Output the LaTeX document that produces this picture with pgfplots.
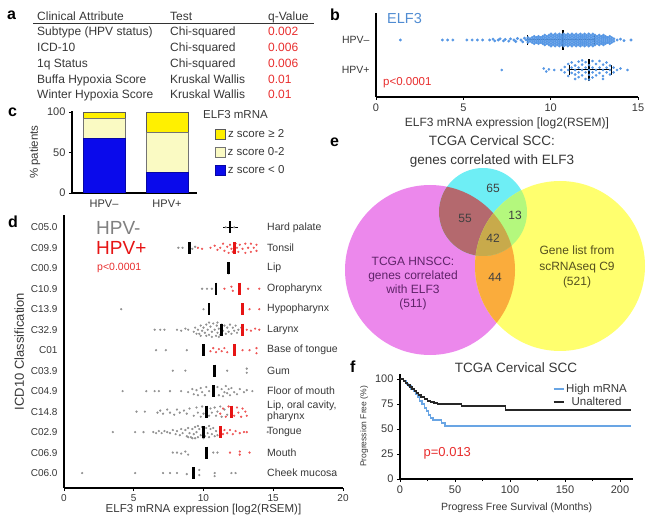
\documentclass[border=0pt]{standalone}
\usepackage{fontspec}
\setmainfont{Liberation Sans}
\usepackage{pgfplots}
\pgfplotsset{compat=1.18}

\definecolor{txt}{RGB}{55,55,55}
\definecolor{qred}{RGB}{232,45,45}
\definecolor{dotblue}{RGB}{85,150,228}
\definecolor{titleblue}{RGB}{80,140,210}
\definecolor{zyel}{RGB}{255,240,0}
\definecolor{zlight}{RGB}{250,250,195}
\definecolor{zblue}{RGB}{10,10,235}
\definecolor{dgray}{RGB}{145,145,145}
\definecolor{dred}{RGB}{238,85,85}
\definecolor{mred}{RGB}{230,20,20}
\definecolor{vmag}{RGB}{236,136,236}
\definecolor{vcyan}{RGB}{110,238,245}
\definecolor{vyel}{RGB}{255,255,110}
\definecolor{vmc}{RGB}{180,105,110}
\definecolor{vcy}{RGB}{180,248,125}
\definecolor{vmy}{RGB}{250,172,60}
\definecolor{vall}{RGB}{200,170,75}
\definecolor{kmblue}{RGB}{105,165,228}

\newcommand\fs[1]{\fontsize{#1}{#1}\selectfont}

\pgfplotsset{
  panel/.style={scale only axis, axis lines=left,
    axis line style={-, line width=1.1pt, black},
    tick align=outside, major tick length=3pt,
    tick style={line width=0.8pt, black},
    /pgf/number format/assume math mode=true,
    tick label style={font=\fs{11}, text=txt},
    label style={font=\fs{11.5}, text=txt}},
}

\begin{document}
\begin{tikzpicture}
\useasboundingbox (0pt,0pt) rectangle (650pt,-518pt);

% panel letters
\begin{scope}[every node/.style={anchor=base west, inner sep=0pt, font=\bfseries\fs{16}}]
\node at (7pt,-20pt) {a};
\node at (330pt,-21pt) {b};
\node at (8pt,-117pt) {c};
\node at (8pt,-228pt) {d};
\node at (330pt,-147pt) {e};
\node at (350pt,-372pt) {f};
\end{scope}

% ---------- a: table
\begin{scope}[every node/.style={anchor=base west, inner sep=0pt, font=\fs{12}, text=txt}]
\node at (37pt,-20.5pt) {Clinical Attribute};
\node at (170pt,-20.5pt) {Test};
\node at (268pt,-20.5pt) {q-Value};
\node at (37pt,-36pt) {Subtype (HPV status)};
\node at (170pt,-36pt) {Chi-squared};
\node[text=qred] at (268pt,-36pt) {0.002};
\node at (37pt,-51.5pt) {ICD-10};
\node at (170pt,-51.5pt) {Chi-squared};
\node[text=qred] at (268pt,-51.5pt) {0.006};
\node at (37pt,-67.5pt) {1q Status};
\node at (170pt,-67.5pt) {Chi-squared};
\node[text=qred] at (268pt,-67.5pt) {0.006};
\node at (37pt,-83.5pt) {Buffa Hypoxia Score};
\node at (170pt,-83.5pt) {Kruskal Wallis};
\node[text=qred] at (268pt,-83.5pt) {0.01};
\node at (37pt,-99pt) {Winter Hypoxia Score};
\node at (170pt,-99pt) {Kruskal Wallis};
\node[text=qred] at (268pt,-99pt) {0.01};
\end{scope}
\draw[line width=0.8pt, black!80] (33pt,-23.5pt) -- (314pt,-23.5pt);

% ---------- b: ELF3 by HPV status
\begin{axis}[panel, at={(376pt,-97pt)}, anchor=south west,
  width=262pt, height=84pt, xmin=0, xmax=15, ymin=0.1, ymax=2.9,
  xtick={0,5,10,15}, ytick={1,2}, yticklabels={HPV+,HPV–},
  y tick style={draw=none}, yticklabel style={font=\fs{10.5}},
  xlabel={ELF3 mRNA expression [log2(RSEM)]}, xlabel style={font=\fs{12}},
  clip=false]
\addplot[only marks, mark=*, mark size=1.25pt, dotblue, mark options={draw=none}] coordinates {
(1.4,2) (3.8,2) (4.1,2) (4.4,2) (5.2,2) (5.5,2) (5.8,2) (6.1,2) (6.5,2)
(6.7,2.03) (6.8,1.97) (7.0,2) (7.1,2.04) (7.3,1.97) (7.4,2.02) (7.6,1.96)
(7.7,2.04) (7.9,2) (8.0,1.95) (8.1,2.05) (8.3,2) (8.4,1.94) (8.5,2.06) (8.6,2)
(8.70,2) (8.70,2.08) (8.70,1.92)
(8.82,2.04) (8.82,1.96)
(8.94,2) (8.94,2.08) (8.94,1.92)
(9.06,2.04) (9.06,1.96) (9.06,2.12) (9.06,1.88)
(9.18,2) (9.18,2.08) (9.18,1.92)
(9.30,2.04) (9.30,1.96) (9.30,2.12) (9.30,1.88)
(9.42,2) (9.42,2.08) (9.42,1.92)
(9.54,2.04) (9.54,1.96) (9.54,2.12) (9.54,1.88)
(9.66,2) (9.66,2.08) (9.66,1.92) (9.66,2.16) (9.66,1.84)
(9.78,2.04) (9.78,1.96) (9.78,2.12) (9.78,1.88)
(9.90,2) (9.90,2.08) (9.90,1.92) (9.90,2.16) (9.90,1.84)
(10.02,2.04) (10.02,1.96) (10.02,2.12) (10.02,1.88) (10.02,2.2) (10.02,1.8)
(10.14,2) (10.14,2.08) (10.14,1.92) (10.14,2.16) (10.14,1.84)
(10.26,2.04) (10.26,1.96) (10.26,2.12) (10.26,1.88) (10.26,2.2) (10.26,1.8)
(10.38,2) (10.38,2.08) (10.38,1.92) (10.38,2.16) (10.38,1.84)
(10.50,2.04) (10.50,1.96) (10.50,2.12) (10.50,1.88) (10.50,2.2) (10.50,1.8)
(10.62,2) (10.62,2.08) (10.62,1.92) (10.62,2.16) (10.62,1.84)
(10.74,2.04) (10.74,1.96) (10.74,2.12) (10.74,1.88) (10.74,2.2) (10.74,1.8)
(10.86,2) (10.86,2.08) (10.86,1.92) (10.86,2.16) (10.86,1.84)
(10.98,2.04) (10.98,1.96) (10.98,2.12) (10.98,1.88) (10.98,2.2) (10.98,1.8)
(11.10,2) (11.10,2.08) (11.10,1.92) (11.10,2.16) (11.10,1.84)
(11.22,2.04) (11.22,1.96) (11.22,2.12) (11.22,1.88) (11.22,2.2) (11.22,1.8)
(11.34,2) (11.34,2.08) (11.34,1.92) (11.34,2.16) (11.34,1.84)
(11.46,2.04) (11.46,1.96) (11.46,2.12) (11.46,1.88) (11.46,2.2) (11.46,1.8)
(11.58,2) (11.58,2.08) (11.58,1.92) (11.58,2.16) (11.58,1.84)
(11.70,2.04) (11.70,1.96) (11.70,2.12) (11.70,1.88) (11.70,2.2) (11.70,1.8)
(11.82,2) (11.82,2.08) (11.82,1.92) (11.82,2.16) (11.82,1.84)
(11.94,2.04) (11.94,1.96) (11.94,2.12) (11.94,1.88) (11.94,2.2) (11.94,1.8)
(12.06,2) (12.06,2.08) (12.06,1.92) (12.06,2.16) (12.06,1.84)
(12.18,2.04) (12.18,1.96) (12.18,2.12) (12.18,1.88) (12.18,2.2) (12.18,1.8)
(12.30,2) (12.30,2.08) (12.30,1.92) (12.30,2.16) (12.30,1.84)
(12.42,2.04) (12.42,1.96) (12.42,2.12) (12.42,1.88) (12.42,2.2) (12.42,1.8)
(12.54,2) (12.54,2.08) (12.54,1.92) (12.54,2.16) (12.54,1.84)
(12.66,2.04) (12.66,1.96) (12.66,2.12) (12.66,1.88)
(12.78,2) (12.78,2.08) (12.78,1.92) (12.78,2.16) (12.78,1.84)
(12.90,2.04) (12.90,1.96) (12.90,2.12) (12.90,1.88)
(13.02,2) (13.02,2.08) (13.02,1.92) (13.02,2.16) (13.02,1.84)
(13.14,2.04) (13.14,1.96) (13.14,2.12) (13.14,1.88)
(13.26,2) (13.26,2.08) (13.26,1.92)
(13.38,2.04) (13.38,1.96) (13.38,2.12) (13.38,1.88)
(13.50,2) (13.50,2.08) (13.50,1.92)
(13.62,2.04) (13.62,1.96)
(13.80,2) (14.00,2.03) (14.20,1.98) (14.60,2)
};
\addplot[only marks, mark=*, mark size=1.1pt, dotblue, mark options={draw=none}] coordinates {
(7.2,1) (9.6,1.05) (9.75,0.95) (9.9,1.02) (10.2,1.0)
(10.6,1) (10.8,1.1) (10.8,0.92) (11.0,1) (11.0,1.2) (11.0,0.8)
(11.2,1.08) (11.2,0.9) (11.2,1.25) (11.4,1) (11.4,1.15) (11.4,0.85) (11.4,0.7)
(11.6,1.08) (11.6,0.92) (11.6,1.28) (11.6,0.76) (11.8,1) (11.8,1.18) (11.8,0.82) (11.8,1.32)
(12.0,1.08) (12.0,0.92) (12.0,0.7) (12.0,1.26) (12.2,1) (12.2,1.16) (12.2,0.84) (12.2,0.68)
(12.4,1.08) (12.4,0.92) (12.4,1.3) (12.4,0.75) (12.6,1) (12.6,1.2) (12.6,0.82)
(12.8,1.08) (12.8,0.9) (12.8,1.3) (13.0,1) (13.0,1.18) (13.0,0.8) (13.0,0.7)
(13.2,1.08) (13.2,0.92) (13.2,1.25) (13.4,1) (13.4,1.15) (13.4,0.85)
(13.6,1.08) (13.6,0.92) (13.8,1) (14.0,1.05) (14.4,1)
};
% medians and spread
\addplot[black, line width=1pt] coordinates {(8.7,2) (12.5,2)};
\addplot[black, line width=1pt] coordinates {(8.7,1.84) (8.7,2.16)};
\addplot[black, line width=1pt] coordinates {(12.5,1.84) (12.5,2.16)};
\addplot[black, line width=2pt] coordinates {(10.7,1.67) (10.7,2.33)};
\addplot[black, line width=1pt] coordinates {(11.1,1) (13.5,1)};
\addplot[black, line width=1pt] coordinates {(11.1,0.84) (11.1,1.16)};
\addplot[black, line width=1pt] coordinates {(13.5,0.84) (13.5,1.16)};
\addplot[black, line width=2pt] coordinates {(12.2,0.63) (12.2,1.37)};
\end{axis}
\node[anchor=base west, inner sep=0pt, font=\fs{14.5}, text=titleblue] at (387pt,-23.5pt) {ELF3};
\node[anchor=base west, inner sep=0pt, font=\fs{11.5}, text=qred] at (383pt,-86pt) {p<0.0001};

% ---------- c: stacked bars
\begin{axis}[panel, at={(72pt,-193pt)}, anchor=south west,
  width=125pt, height=81.8pt, ybar stacked, bar width=42pt,
  xmin=-0.508, xmax=1.476, ymin=0, ymax=101,
  xtick={0,1}, xticklabels={HPV–,HPV+}, x tick style={draw=none},
  ytick={0,50,100}, ylabel={\% patients},
  reverse legend,
  legend image code/.code={\draw[#1] (0pt,-5pt) rectangle (10pt,5pt);},
  legend style={draw=none, fill=none, at={(1.12,0.83)}, anchor=north west,
    font=\fs{11.5}, text=txt, row sep=4.5pt}]
\addplot[fill=zblue, draw=zblue!70!black, line width=0.5pt] coordinates {(0,67) (1,25)};
\addplot[fill=zlight, draw=black!55, line width=0.5pt] coordinates {(0,25) (1,50)};
\addplot[fill=zyel, draw=black!65, line width=0.5pt] coordinates {(0,8) (1,25)};
\legend{z score < 0, z score 0-2, z score ≥ 2}
\end{axis}
\node[anchor=base west, inner sep=0pt, font=\fs{11.5}, text=txt] at (203pt,-119pt) {ELF3 mRNA};

% ---------- d: by ICD10 site
\begin{axis}[panel, at={(64pt,-488pt)}, anchor=south west,
  width=279pt, height=273pt, xmin=0, xmax=20, ymin=0.4, ymax=13.73,
  y dir=reverse, xtick={0,5,10,15,20}, ytick={1,...,13},
  yticklabels={C05.0,C09.9,C00.9,C10.9,C13.9,C32.9,C01,C03.9,C04.9,C14.8,C02.9,C06.9,C06.0},
  y tick style={draw=none}, yticklabel style={font=\fs{10}},
  xticklabel style={font=\fs{10}},
  axis line style={line width=1.6pt},
  xlabel={ELF3 mRNA expression [log2(RSEM)]}, xlabel style={font=\fs{11.5}, yshift=4pt},
  ylabel={ICD10 Classification}, ylabel style={font=\fs{13}},
  clip=false]
% HPV- samples
\addplot[only marks, mark=*, mark size=0.9pt, dgray, mark options={draw=none}] coordinates {
(11.6,1) (12.2,1)
(8.2,2) (8.5,2) (9.2,2.05) (9.4,1.95)
(11.8,2.75) (11.8,3.25)
(9.9,4) (10.25,4) (10.6,4)
(4.1,5) (10.0,5)
(6.5,6) (6.9,6) (7.2,6) (8.1,6) (8.4,6.05) (8.7,5.95) (8.9,6) (9.3,6.1) (9.4,5.9)
(9.5,6.2) (9.6,6) (9.7,6.2) (9.8,5.8) (9.8,6.3) (9.9,6.05) (10.0,5.9) (10.1,6.15)
(10.2,5.75) (10.2,6.3) (10.3,6) (10.4,6.25) (10.4,5.65) (10.5,5.85) (10.6,6.1)
(10.6,6.35) (10.7,5.7) (10.8,6) (10.9,6.3) (10.95,5.8) (11.0,6.15) (11.0,5.65)
(11.1,5.95) (11.1,6.35) (11.2,6.25) (11.3,5.75) (11.4,6.05) (11.5,5.8) (11.6,6.2)
(11.7,5.9) (11.8,6.1) (11.9,5.75) (12.0,6.2) (12.1,5.9) (12.2,6.05) (12.3,5.8)
(12.4,6.15) (12.5,6) (12.7,5.9)
(6.6,7) (7.3,7) (8.8,7)
(7.8,8) (8.7,8) (11.7,8) (13.1,7.9) (13.1,8.1)
(4.2,9) (5.9,9) (6.5,9) (6.8,9) (7.6,9) (8.4,9) (8.9,9.05) (9.2,8.9) (9.3,9.15)
(9.5,8.95) (9.6,9.2) (9.8,8.85) (9.9,9.05) (10.1,9.2) (10.2,8.8) (10.4,9)
(11.0,8.8) (11.1,9.2) (11.3,8.9) (11.4,9.25) (11.5,9.05) (11.6,8.75) (11.7,9.1)
(11.8,8.9) (11.9,9.2) (12.0,8.85) (12.2,9.05) (12.4,9.15) (12.6,8.9) (12.9,9.05)
(13.1,8.95) (13.5,9)
(5.2,10) (5.8,10) (6.7,10.05) (6.9,9.95) (7.1,10.1) (7.4,9.9) (7.6,10.05) (7.9,10.15)
(8.1,9.9) (8.3,10.05) (8.6,9.95) (8.8,10.1) (9.0,9.85) (9.3,10.2) (9.5,9.8) (9.6,10.05)
(9.8,10.25) (9.9,9.75) (10.0,10.1) (10.4,10.2) (10.5,9.85) (10.6,10.05) (10.8,9.8)
(10.9,10.2) (11.0,10) (11.2,9.75) (11.3,10.25) (11.5,9.9) (11.7,10.15)
(3.5,11) (5.1,11) (5.7,11) (6.4,11) (6.6,11.05) (6.8,10.95) (7.0,11.05) (7.2,10.95)
(7.4,11) (7.6,11.05) (7.8,10.9) (8.0,11.1) (8.1,10.95) (8.3,11.15) (8.4,10.85)
(8.5,11.05) (8.7,10.9) (8.8,11.2) (8.9,10.8) (8.9,11.25) (9.0,11.05) (9.1,11.25)
(9.2,10.85) (9.2,11.3) (9.3,11.1) (9.4,10.75) (9.4,11.3) (9.5,11) (9.6,11.25)
(9.6,10.7) (9.7,10.85) (9.8,11.15) (9.9,10.75) (10.0,11.3) (10.1,11.2) (10.2,10.8)
(10.3,11.05) (10.4,11.25) (10.4,10.7) (10.5,10.85) (10.6,11.1) (10.7,10.8)
(10.8,11.2) (10.9,10.95) (11.0,11.15) (14.6,11)
(7.8,12) (8.1,12) (8.4,12.05) (8.7,11.95) (8.9,12.1) (10.7,12) (11.0,12)
(1.3,13) (5.1,13) (7.1,13) (7.6,13) (8.1,13) (8.8,13.05) (9.7,13.1) (9.7,12.85)
(10.8,13) (10.8,13.15) (12.0,13) (12.3,13)
};
% HPV+ samples
\addplot[only marks, mark=*, mark size=0.9pt, dred, mark options={draw=none}] coordinates {
(9.6,2) (9.9,2.05) (10.5,2) (10.8,1.9) (11.0,2.1) (11.2,2) (11.4,1.8) (11.5,2.15)
(11.7,1.95) (11.8,2.25) (11.9,1.85) (12.0,2.05) (12.1,2.2) (12.3,1.8) (12.4,2.0)
(12.5,2.2) (12.6,1.85) (12.8,2.05) (13.0,1.8) (13.0,2.25) (13.2,2.0) (13.4,1.8)
(13.4,2.2) (13.6,2.0) (13.8,2.15) (13.8,1.85)
(11.5,4) (12.0,3.9) (12.1,4.1) (13.2,4) (14.0,4)
(13.3,5) (14.0,5)
(13.1,6) (13.4,6.05) (13.7,5.95) (14.0,6)
(10.5,7.05) (10.7,6.9) (10.9,7.1) (11.1,6.95) (11.3,7.05) (11.5,6.9) (11.7,7.1)
(12.8,7) (13.3,7) (13.8,6.9) (13.8,7.15)
(11.2,10.1) (11.4,9.85) (11.6,10.25) (11.8,9.75) (12.2,10.2) (12.4,9.8) (12.5,10.05)
(12.7,10.25) (12.8,9.85) (13.0,10) (13.1,10.2)
(11.4,11.1) (11.5,10.9) (11.7,11.05) (11.9,10.9) (12.1,11.1) (12.3,10.95)
(12.6,11.05) (12.9,11) (13.1,11)
(11.9,12) (12.6,11.95) (12.6,12.1) (13.3,12)
};
% medians
\addplot[black, line width=0.8pt] coordinates {(11.4,1) (12.5,1)};
\addplot[only marks, mark=|, mark size=6pt, line width=2.8pt, black] coordinates {
(11.9,1) (9.0,2) (11.8,3) (10.9,4) (10.4,5) (11.3,6) (10.0,7) (10.8,8) (10.7,9)
(10.2,10) (10.0,11) (10.2,12) (9.3,13)
};
\addplot[only marks, mark=|, mark size=6pt, line width=2.8pt, mred] coordinates {
(12.2,2) (12.6,4) (12.8,5) (12.8,6) (12.2,7) (12.0,10) (11.2,11)
};
\begin{scope}[every node/.style={anchor=west, inner sep=0pt, font=\fs{10.5}, text=txt}]
\node at (axis cs:14.55,1) {Hard palate};
\node at (axis cs:14.55,2) {Tonsil};
\node at (axis cs:14.55,3) {Lip};
\node at (axis cs:14.55,4) {Oropharynx};
\node at (axis cs:14.55,5) {Hypopharynx};
\node at (axis cs:14.55,6) {Larynx};
\node at (axis cs:14.55,7) {Base of tongue};
\node at (axis cs:14.55,8) {Gum};
\node at (axis cs:14.55,9) {Floor of mouth};
\node[align=left, font=\fontsize{10.5}{8.5}\selectfont] at (axis cs:14.55,10) {Lip, oral cavity,\\pharynx};
\node at (axis cs:14.55,11) {Tongue};
\node at (axis cs:14.55,12) {Mouth};
\node at (axis cs:14.55,13) {Cheek mucosa};
\end{scope}
\end{axis}
\node[anchor=west, inner sep=0pt, font=\fs{19}, text=black!50] at (96pt,-228pt) {HPV-};
\node[anchor=west, inner sep=0pt, font=\fs{19}, text=mred] at (96pt,-248pt) {HPV+};
\node[anchor=west, inner sep=0pt, font=\fs{10.5}, text=qred] at (97pt,-268pt) {p<0.0001};

% ---------- e: Venn diagram
\node[align=center, font=\fontsize{13.5}{19}\selectfont, text=txt] at (492pt,-152pt) {TCGA Cervical SCC:\\genes correlated with ELF3};
\begin{axis}[at={(340pt,-370pt)}, anchor=south west, scale only axis,
  width=305pt, height=200pt, xmin=340, xmax=645, ymin=-370, ymax=-170,
  hide axis, clip=false]
\fill[vmag] (axis cs:430,-270) circle[radius=85];
\fill[vcyan] (axis cs:483,-212) circle[radius=44];
\fill[vyel] (axis cs:560,-266) circle[radius=85];
\begin{scope}
\clip (axis cs:430,-270) circle[radius=85];
\fill[vmy] (axis cs:560,-266) circle[radius=85];
\fill[vmc] (axis cs:483,-212) circle[radius=44];
\end{scope}
\begin{scope}
\clip (axis cs:560,-266) circle[radius=85];
\fill[vcy] (axis cs:483,-212) circle[radius=44];
\end{scope}
\begin{scope}
\clip (axis cs:430,-270) circle[radius=85];
\clip (axis cs:560,-266) circle[radius=85];
\fill[vall] (axis cs:483,-212) circle[radius=44];
\end{scope}
\begin{scope}[every node/.style={font=\fs{12}, text=black!75}]
\node at (axis cs:493,-188) {65};
\node at (axis cs:465,-218) {55};
\node at (axis cs:515,-215) {13};
\node at (axis cs:493,-238) {42};
\node at (axis cs:495,-277) {44};
\end{scope}
\node[align=center, font=\fontsize{12}{14}\selectfont, text={rgb,255:red,95;green,35;blue,105}] at (axis cs:413,-284) {TCGA HNSCC:\\genes correlated\\with ELF3\\(511)};
\node[align=center, font=\fontsize{12}{15.5}\selectfont, text={rgb,255:red,85;green,80;blue,30}] at (axis cs:577,-267) {Gene list from\\scRNAseq C9\\(521)};
\end{axis}

% ---------- f: progression free survival
\node[font=\fs{13.5}, text=txt] at (516pt,-368pt) {TCGA Cervical SCC};
\begin{axis}[panel, at={(400pt,-479pt)}, anchor=south west,
  width=233.2pt, height=105pt, xmin=0, xmax=212, ymin=0, ymax=105,
  xtick={0,50,100,150,200}, minor x tick num=1, minor tick length=2pt,
  ytick={0,25,50,75,100},
  xlabel={Progress Free Survival (Months)}, xlabel style={font=\fs{10.5}, yshift=-3pt},
  ylabel={Progression Free (\%)}, ylabel style={font=\fs{8.5}},
  legend image code/.code={\draw[#1] (0pt,0pt) -- (10pt,0pt);},
  legend style={draw=none, fill=none, at={(axis cs:211,99)}, anchor=north east,
    font=\fs{11.5}, text=txt, row sep=-1pt}]
\addplot[const plot, kmblue, line width=1.3pt] coordinates {
(0,100) (3,98) (6,95) (8,93) (10,90) (12,88) (14,85) (16,82) (18,78) (20,75)
(22,71) (24,68) (26,64) (28,61) (30,59) (38,56) (41,53) (210,53)
};
\addplot[const plot, black!85, line width=1.3pt] coordinates {
(0,100) (3,98) (5,96) (7,94) (9,92) (11,90) (13,88) (15,86) (17,84) (19,82)
(22,80) (25,78) (28,77) (31,76) (34,75) (56,73) (96,69) (210,69)
};
\legend{High mRNA, Unaltered}
\node[font=\fs{13}, text=qred] at (axis cs:43,26) {p=0.013};
\end{axis}
\end{tikzpicture}
\end{document}
